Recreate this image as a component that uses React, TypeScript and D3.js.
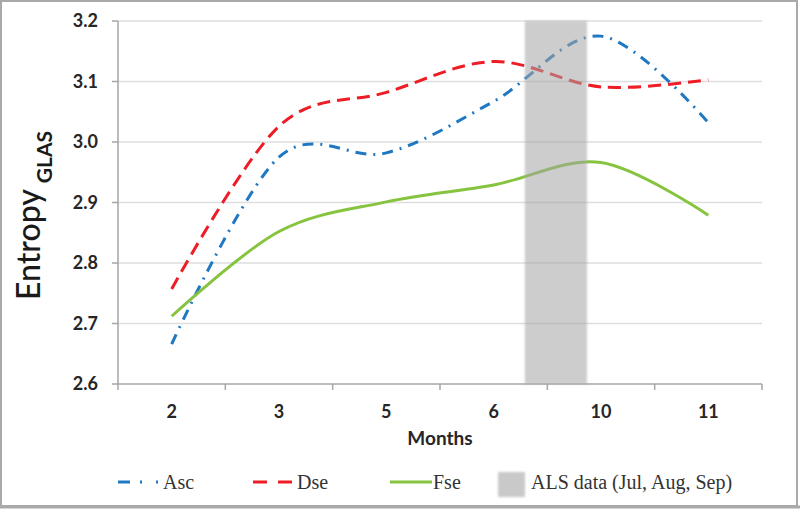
import React from "react";
import * as d3 from "d3";

const months = ["2", "3", "5", "6", "10", "11"];
const ascValues = [2.666, 2.975, 2.982, 3.067, 3.175, 3.032];
const dseValues = [2.757, 3.026, 3.082, 3.133, 3.091, 3.103];
const fseValues = [2.712, 2.852, 2.901, 2.929, 2.966, 2.879];
const yTicks = [2.6, 2.7, 2.8, 2.9, 3.0, 3.1, 3.2];
// ALS band, in category-index units
const alsStart = 3.29;
const alsEnd = 3.87;

const W = 800;
const H = 509;
const left = 118;
const right = 762;
const top = 21;
const bottom = 384;

const labelFont = "Lato, 'Open Sans', sans-serif";
const serif = "'Liberation Serif', 'DejaVu Serif', serif";

export default function App() {
  const x = d3.scaleLinear().domain([-0.5, months.length - 0.5]).range([left, right]);
  const y = d3.scaleLinear().domain([2.6, 3.2]).range([bottom, top]);
  const line = d3
    .line<number>()
    .x((_, i) => x(i))
    .y((d) => y(d))
    .curve(d3.curveCardinal.tension(0));

  const series = [
    { name: "Asc", values: ascValues, color: "#1f78c1", dash: "11 7 2 7" },
    { name: "Dse", values: dseValues, color: "#ee1c25", dash: "13 7" },
    { name: "Fse", values: fseValues, color: "#86c440", dash: "" },
  ];

  const boundaries = d3.range(months.length + 1).map((i) => x(i - 0.5));

  return (
    <svg
      width={W}
      height={H}
      style={{ position: "absolute", left: 0, top: 0, background: "#fff" }}
    >
      <defs>
        <filter id="blur" x="-20%" y="-5%" width="140%" height="110%">
          <feGaussianBlur stdDeviation="1.2" />
        </filter>
      </defs>
      <rect x={0} y={0} width={W} height={H} fill="#fff" />
      {/* outer frame */}
      <rect x={1} y={1} width={796} height={505} fill="none" stroke="#a9a9a9" strokeWidth={2} />
      <line x1={0} x2={W} y1={507} y2={507} stroke="#a9a9a9" strokeWidth={3} />

      {/* gridlines */}
      {yTicks.slice(1).map((t) => (
        <line key={t} x1={left} x2={right} y1={y(t)} y2={y(t)} stroke="#dedede" strokeWidth={1.5} />
      ))}

      {/* axes */}
      <line x1={left} x2={left} y1={top} y2={bottom} stroke="#a6a6a6" strokeWidth={1.5} />
      <line x1={left} x2={right} y1={bottom} y2={bottom} stroke="#a6a6a6" strokeWidth={1.5} />
      {yTicks.map((t) => (
        <line key={"yt" + t} x1={left - 6} x2={left} y1={y(t)} y2={y(t)} stroke="#a6a6a6" strokeWidth={1.5} />
      ))}
      {boundaries.map((b, i) => (
        <line key={"xt" + i} x1={b} x2={b} y1={bottom} y2={bottom + 6} stroke="#a6a6a6" strokeWidth={1.5} />
      ))}

      {/* series */}
      {series.map((s) => (
        <path
          key={s.name}
          d={line(s.values) || ""}
          fill="none"
          stroke={s.color}
          strokeWidth={3}
          strokeDasharray={s.dash || undefined}
        />
      ))}

      {/* ALS band */}
      <rect
        x={x(alsStart)}
        y={top}
        width={x(alsEnd) - x(alsStart)}
        height={bottom - top}
        fill="#a5a5a5"
        opacity={0.55}
        filter="url(#blur)"
      />

      {/* y tick labels */}
      {yTicks.map((t) => (
        <text
          key={"yl" + t}
          x={98}
          y={y(t)}
          dy="0.36em"
          textAnchor="end"
          fontFamily={labelFont}
          fontWeight={700}
          fontSize={18}
          fill="#262626"
        >
          {t.toFixed(1)}
        </text>
      ))}
      {/* x tick labels */}
      {months.map((m, i) => (
        <text
          key={"xl" + m}
          x={x(i)}
          y={418}
          textAnchor="middle"
          fontFamily={labelFont}
          fontWeight={700}
          fontSize={18}
          fill="#262626"
        >
          {m}
        </text>
      ))}
      <text
        x={(left + right) / 2}
        y={445}
        textAnchor="middle"
        fontFamily={labelFont}
        fontWeight={700}
        fontSize={19}
        fill="#262626"
      >
        Months
      </text>

      {/* y title */}
      <text
        transform="translate(40,300) rotate(-90)"
        fontFamily={labelFont}
        fontSize={32}
        fontWeight={500}
        fill="#1a1a1a"
      >
        Entropy
        <tspan dx={6} dy={12} fontSize={21} fontWeight={700}>
          GLAS
        </tspan>
      </text>

      {/* legend */}
      <g>
        <line x1={118} x2={160} y1={482} y2={482} stroke="#1f78c1" strokeWidth={3} strokeDasharray="12 10 2 14 2 10" />
        <text x={163} y={489} fontFamily={serif} fontSize={20} fill="#333">Asc</text>
        <line x1={253} x2={293} y1={482} y2={482} stroke="#ee1c25" strokeWidth={3} strokeDasharray="14 11" />
        <text x={297} y={489} fontFamily={serif} fontSize={20} fill="#333">Dse</text>
        <line x1={390} x2={432} y1={482} y2={482} stroke="#86c440" strokeWidth={3} />
        <text x={433} y={489} fontFamily={serif} fontSize={20} fill="#333">Fse</text>
        <rect x={498} y={472} width={27} height={25} fill="#c9c9c9" filter="url(#blur)" />
        <text x={531} y={489} fontFamily={serif} fontSize={20} fill="#333">ALS data (Jul, Aug, Sep)</text>
      </g>
    </svg>
  );
}
